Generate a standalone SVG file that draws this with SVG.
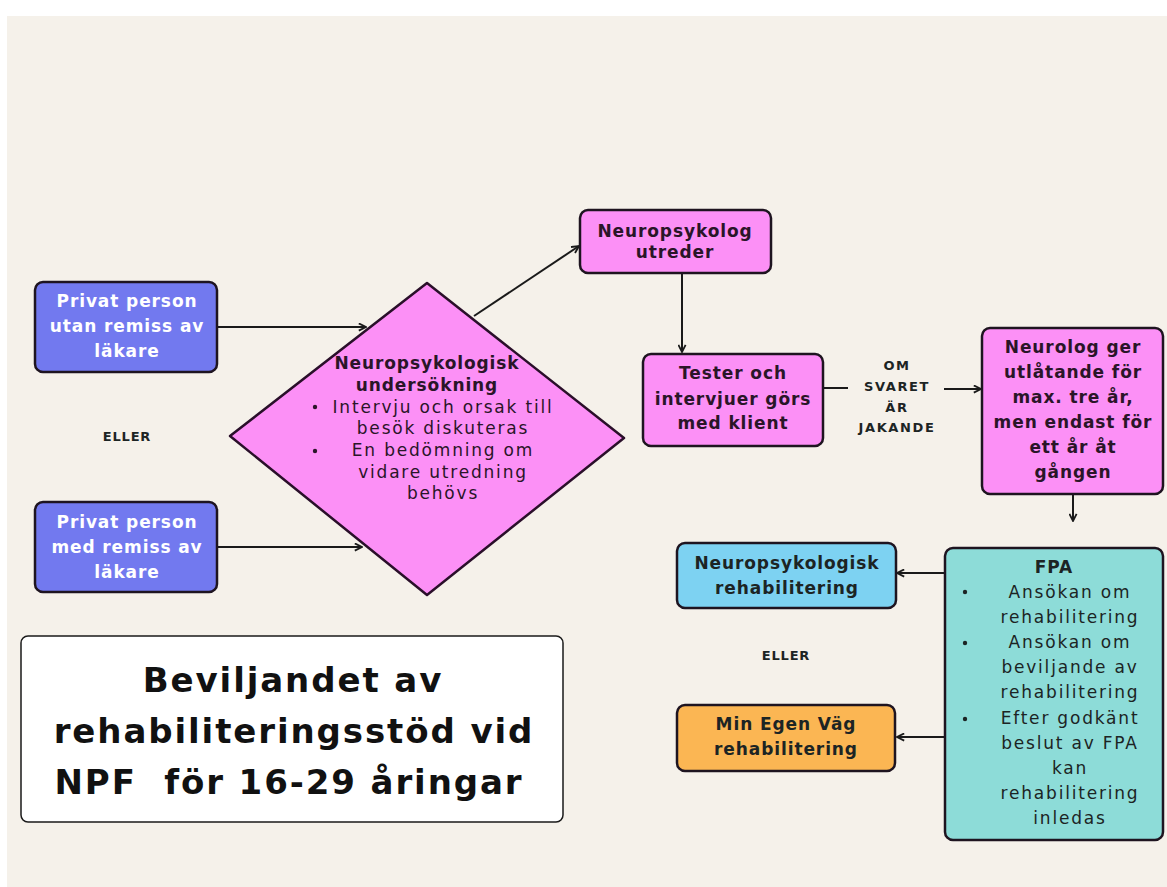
<svg xmlns="http://www.w3.org/2000/svg" width="1167" height="887" viewBox="0 0 1167 887">
<defs>
<marker id="ah" viewBox="0 0 10 10" refX="9" refY="5" markerWidth="9" markerHeight="9" markerUnits="userSpaceOnUse" orient="auto">
<path d="M1,1 L9,5 L1,9" fill="none" stroke="#1a1a1a" stroke-width="2" stroke-linejoin="miter"/>
</marker>
<style>
.bx{stroke:#1e1420;stroke-width:2.5}
.blue{fill:#7279ef}
.pink{fill:#fc90f6}
.lblue{fill:#7dd2f2}
.orange{fill:#fbb653}
.teal{fill:#8ddcd8}
.b{font-family:"DejaVu Sans","Liberation Sans",sans-serif;font-weight:700;text-anchor:middle;letter-spacing:0.9px}
.r{font-family:"DejaVu Sans","Liberation Sans",sans-serif;font-weight:400;text-anchor:middle;letter-spacing:1.8px}
.s{font-family:"DejaVu Sans","Liberation Sans",sans-serif;font-weight:700;text-anchor:middle;letter-spacing:0.8px;font-size:13px;fill:#1c2424}
.s2{letter-spacing:1.6px}
.w{fill:#ffffff;font-size:17px}
.d{fill:#2a1528;font-size:17px}
.dk{fill:#1c2424;font-size:17px}
.t{font-family:"DejaVu Sans","Liberation Sans",sans-serif;font-weight:700;text-anchor:middle;letter-spacing:1.9px;font-size:34px;fill:#111111}
.c{stroke:#1a1a1a;stroke-width:2;fill:none}
</style>
</defs>
<rect x="0" y="0" width="1167" height="887" fill="#ffffff"/>
<rect x="7" y="16" width="1160" height="871" fill="#f5f1ea"/>

<g id="connectors">
<line class="c" x1="218" y1="327" x2="366" y2="327" marker-end="url(#ah)"/>
<line class="c" x1="218" y1="547" x2="362" y2="547" marker-end="url(#ah)"/>
<line class="c" x1="474" y1="316" x2="579" y2="246" marker-end="url(#ah)"/>
<line class="c" x1="682" y1="273" x2="682" y2="352" marker-end="url(#ah)"/>
<line class="c" x1="823" y1="388" x2="848" y2="388"/>
<line class="c" x1="944" y1="389" x2="981" y2="389" marker-end="url(#ah)"/>
<line class="c" x1="1073" y1="494" x2="1073" y2="521" marker-end="url(#ah)"/>
<line class="c" x1="945" y1="573" x2="897" y2="573" marker-end="url(#ah)"/>
<line class="c" x1="945" y1="737" x2="897" y2="737" marker-end="url(#ah)"/>
</g>

<g id="n-privat-utan">
<rect class="bx blue" x="35" y="282" width="182" height="90" rx="8"/>
<text class="b w" x="127" y="307">Privat person</text>
<text class="b w" x="127" y="332">utan remiss av</text>
<text class="b w" x="127" y="357">läkare</text>
</g>

<g id="n-eller1">
<text class="s" x="127" y="441">ELLER</text>
</g>

<g id="n-privat-med">
<rect class="bx blue" x="35" y="502" width="182" height="90" rx="8"/>
<text class="b w" x="127" y="528">Privat person</text>
<text class="b w" x="127" y="553">med remiss av</text>
<text class="b w" x="127" y="578">läkare</text>
</g>

<g id="n-undersokning">
<path class="pink" d="M427,283 L624,438 L427,595 L230,436 Z" stroke="#2a0f2a" stroke-width="2.5" stroke-linejoin="round"/>
<text class="b d" x="427" y="369">Neuropsykologisk</text>
<text class="b d" x="427" y="391">undersökning</text>
<circle cx="315" cy="407" r="2.2" fill="#2a1528"/>
<circle cx="315" cy="451" r="2.2" fill="#2a1528"/>
<text class="r d" x="443" y="413">Intervju och orsak till</text>
<text class="r d" x="443" y="434">besök diskuteras</text>
<text class="r d" x="443" y="456">En bedömning om</text>
<text class="r d" x="443" y="478">vidare utredning</text>
<text class="r d" x="443" y="499">behövs</text>
</g>

<g id="n-utreder">
<rect class="bx pink" x="580" y="210" width="191" height="63" rx="8"/>
<text class="b d" x="675" y="237">Neuropsykolog</text>
<text class="b d" x="675" y="258">utreder</text>
</g>

<g id="n-tester">
<rect class="bx pink" x="643" y="354" width="180" height="92" rx="8"/>
<text class="b d" x="733" y="379">Tester och</text>
<text class="b d" x="733" y="405">intervjuer görs</text>
<text class="b d" x="733" y="429">med klient</text>
</g>

<g id="n-om-svaret">
<text class="s s2" x="897" y="370">OM</text>
<text class="s s2" x="897" y="391">SVARET</text>
<text class="s s2" x="897" y="412">ÄR</text>
<text class="s s2" x="897" y="432">JAKANDE</text>
</g>

<g id="n-neurolog">
<rect class="bx pink" x="982" y="328" width="181" height="166" rx="8"/>
<text class="b d" x="1073" y="353">Neurolog ger</text>
<text class="b d" x="1073" y="378">utlåtande för</text>
<text class="b d" x="1073" y="403">max. tre år,</text>
<text class="b d" x="1073" y="428">men endast för</text>
<text class="b d" x="1073" y="453">ett år åt</text>
<text class="b d" x="1073" y="478">gången</text>
</g>

<g id="n-np-rehab">
<rect class="bx lblue" x="677" y="543" width="219" height="65" rx="8"/>
<text class="b dk" x="787" y="569">Neuropsykologisk</text>
<text class="b dk" x="787" y="594">rehabilitering</text>
</g>

<g id="n-eller2">
<text class="s" x="786" y="660">ELLER</text>
</g>

<g id="n-min-egen">
<rect class="bx orange" x="677" y="705" width="218" height="66" rx="8"/>
<text class="b dk" x="786" y="730">Min Egen Väg</text>
<text class="b dk" x="786" y="755">rehabilitering</text>
</g>

<g id="n-fpa">
<rect class="bx teal" x="945" y="548" width="218" height="292" rx="8"/>
<text class="b dk" x="1054" y="573">FPA</text>
<circle cx="965" cy="592" r="2.2" fill="#1c2424"/>
<circle cx="965" cy="643" r="2.2" fill="#1c2424"/>
<circle cx="965" cy="719" r="2.2" fill="#1c2424"/>
<text class="r dk" x="1070" y="598">Ansökan om</text>
<text class="r dk" x="1070" y="623">rehabilitering</text>
<text class="r dk" x="1070" y="648">Ansökan om</text>
<text class="r dk" x="1070" y="673">beviljande av</text>
<text class="r dk" x="1070" y="698">rehabilitering</text>
<text class="r dk" x="1070" y="724">Efter godkänt</text>
<text class="r dk" x="1070" y="749">beslut av FPA</text>
<text class="r dk" x="1070" y="774">kan</text>
<text class="r dk" x="1070" y="799">rehabilitering</text>
<text class="r dk" x="1070" y="824">inledas</text>
</g>

<g id="n-title">
<rect x="21" y="636" width="542" height="186" rx="7" fill="#ffffff" stroke="#1a1a1a" stroke-width="1.5"/>
<text class="t" x="293" y="692">Beviljandet av</text>
<text class="t" x="294" y="743">rehabiliteringsstöd vid</text>
<text class="t" x="289" y="794" xml:space="preserve">NPF  för 16-29 åringar</text>
</g>
</svg>
